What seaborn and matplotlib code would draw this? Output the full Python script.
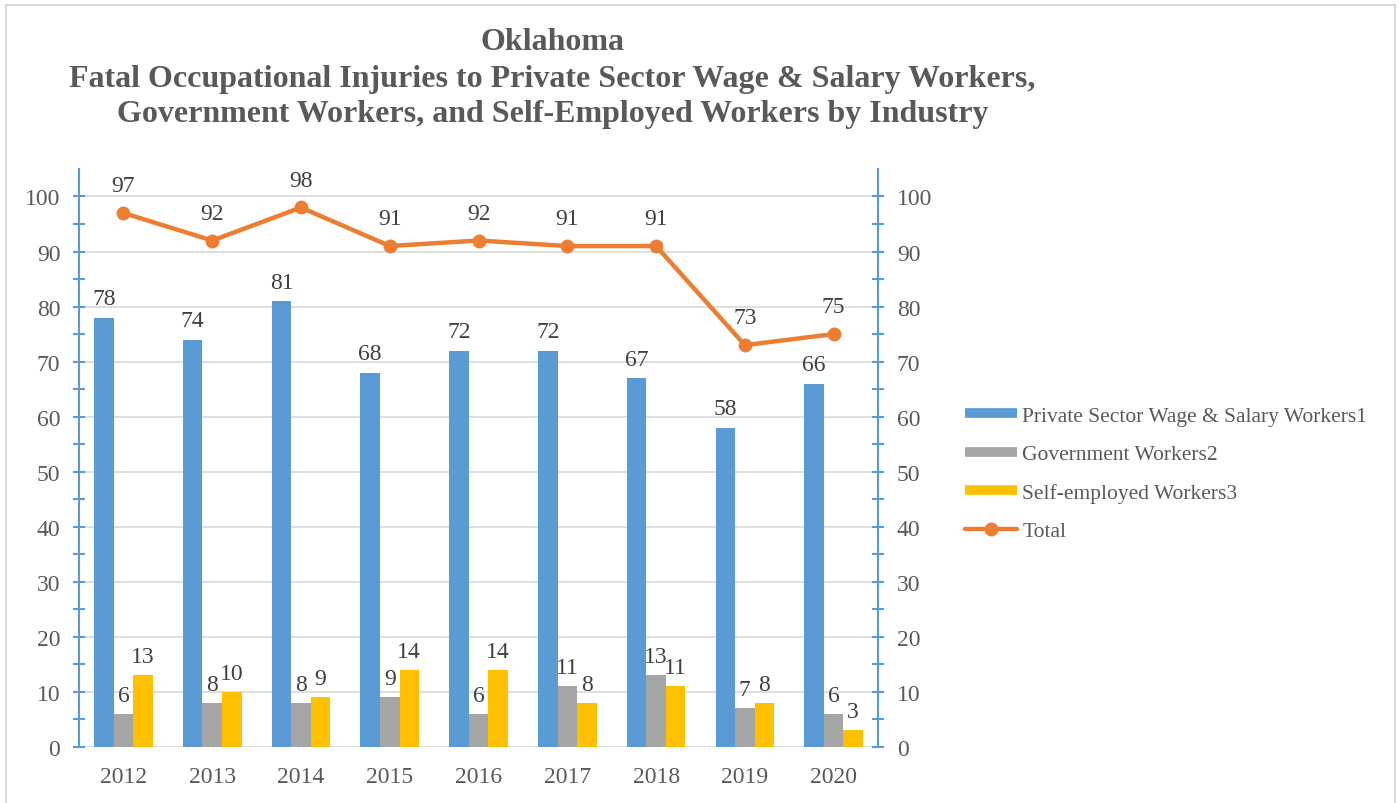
import pandas as pd
import numpy as np
import matplotlib
matplotlib.use("Agg")
import matplotlib.pyplot as plt
import seaborn as sns
from matplotlib.lines import Line2D
from matplotlib.patches import Rectangle

sns.set_style("white")
plt.rcParams['font.family'] = ['Liberation Serif', 'DejaVu Serif']

years = ['2012', '2013', '2014', '2015', '2016', '2017', '2018', '2019', '2020']
private = [78, 74, 81, 68, 72, 72, 67, 58, 66]
government = [6, 8, 8, 9, 6, 11, 13, 7, 6]
self_employed = [13, 10, 9, 14, 14, 8, 11, 8, 3]
total = [97, 92, 98, 91, 92, 91, 91, 73, 75]

series_names = ['Private Sector Wage & Salary Workers1', 'Government Workers2',
                'Self-employed Workers3']
colors = ['#5B9BD5', '#A5A5A5', '#FFC000']
line_color = '#ED7D31'
text_color = '#595959'

df = pd.DataFrame({
    'Year': years * 3,
    'Value': private + government + self_employed,
    'Series': [series_names[0]] * 9 + [series_names[1]] * 9 + [series_names[2]] * 9,
})

fig = plt.figure(figsize=(13.99, 8.04), dpi=100)
# 바깥 테두리 (엑셀 차트 영역)
fig.patches.append(Rectangle((0.004, -0.01), 0.993, 1.003, transform=fig.transFigure,
                             fill=False, edgecolor='#D9D9D9', linewidth=1.5))

ax = fig.add_axes([0.0565, 0.0697, 0.5711, 0.7189])

sns.barplot(data=df, x='Year', y='Value', hue='Series', palette=colors,
            width=0.66, saturation=1, linewidth=0, legend=False, ax=ax)

for cont in ax.containers:
    ax.bar_label(cont, padding=6, fontsize=17, color='#404040')

# Total 선 (보조축)
ax2 = ax.twinx()
x = np.arange(len(years))
sns.lineplot(x=x, y=total, color=line_color, linewidth=3.2, marker='o',
             markersize=10, markeredgewidth=0, ax=ax2)
for i, v in enumerate(total):
    ax2.annotate(str(v), (i, v), xytext=(0, 12), textcoords='offset points',
                 ha='center', va='bottom', fontsize=17, color='#404040')

for a in (ax, ax2):
    a.set_ylim(0, 105)
    a.set_xlim(-0.5, 8.5)
    a.set_ylabel('')
    a.set_xlabel('')
    a.set_yticks(np.arange(0, 101, 10))
    a.set_yticks(np.arange(5, 105, 10), minor=True)
    for s in ['top', 'left', 'right', 'bottom']:
        a.spines[s].set_visible(False)
    a.tick_params(axis='y', which='both', direction='inout', length=9, width=1.5,
                  color='#5B9BD5', labelsize=17, labelcolor=text_color, pad=9)

ax.spines['left'].set_visible(True)
ax.spines['left'].set_color('#5B9BD5')
ax.spines['left'].set_linewidth(1.5)
ax2.spines['right'].set_visible(True)
ax2.spines['right'].set_color('#5B9BD5')
ax2.spines['right'].set_linewidth(1.5)

ax.tick_params(axis='x', length=0, labelsize=17, labelcolor=text_color, pad=14)

ax.grid(axis='y', which='major', color='#D9D9D9', linewidth=1.2)
ax.set_axisbelow(True)

title_lines = ['Oklahoma',
               'Fatal Occupational Injuries to Private Sector Wage & Salary Workers,',
               'Government Workers, and Self-Employed Workers by Industry']
for yy, line in zip([0.947, 0.901, 0.857], title_lines):
    fig.text(0.395, yy, line, ha='center', va='center', fontsize=23,
             fontweight='bold', color=text_color)

handles = [Line2D([0], [0], color=c, linewidth=7, solid_capstyle='butt') for c in colors]
handles.append(Line2D([0], [0], color=line_color, linewidth=3.2, marker='o',
                      markersize=10, markeredgewidth=0))
labels = series_names + ['Total']
fig.legend(handles, labels, loc='upper left', bbox_to_anchor=(0.676, 0.518),
           frameon=False, fontsize=15.5, handlelength=2.4, handletextpad=0.25,
           labelspacing=0.85, labelcolor=text_color)

fig.savefig('out.png', dpi=100)
